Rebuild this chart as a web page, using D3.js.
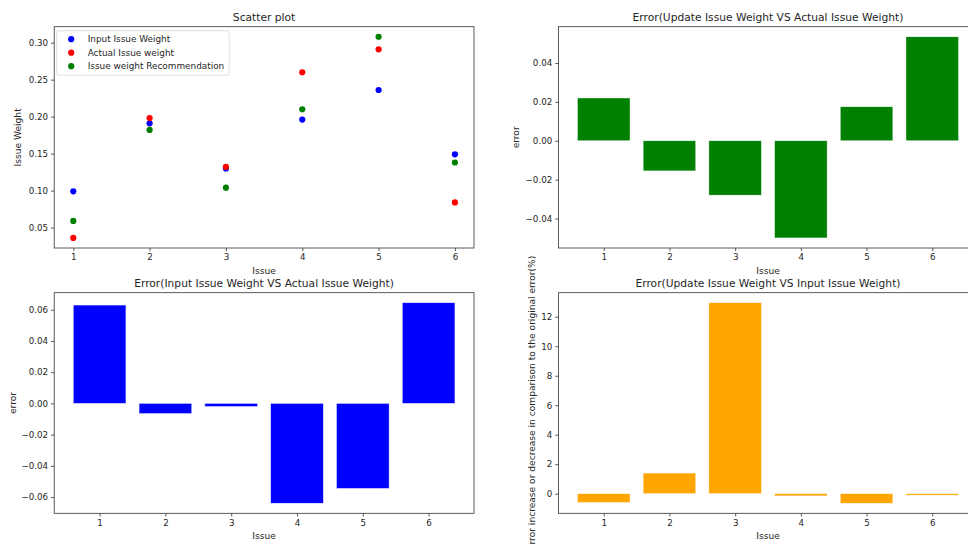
<!DOCTYPE html>
<html>
<head>
<meta charset="utf-8">
<script src="https://cdn.jsdelivr.net/npm/d3@7"></script>
<style>
  html, body { margin: 0; padding: 0; background: #fff; overflow: hidden; }
  svg { display: block; font-family: "DejaVu Sans", sans-serif; }
</style>
</head>
<body>
<svg id="fig" width="968" height="544"></svg>
<script>
// ---- data ----
const issues = [1, 2, 3, 4, 5, 6];
const inputWeight       = [0.099, 0.191, 0.130, 0.196, 0.236, 0.149];
const actualWeight      = [0.036, 0.198, 0.132, 0.260, 0.291, 0.084];
const recommendedWeight = [0.059, 0.182, 0.104, 0.210, 0.308, 0.138];
const errUpdateVsActual = [0.022, -0.0155, -0.028, -0.050, 0.0175, 0.0535];
const errInputVsActual  = [0.063, -0.0065, -0.002, -0.064, -0.0545, 0.0645];
const pctUpdateVsInput  = [-0.6, 1.4, 12.95, -0.15, -0.65, -0.1];

const scatterTicks = [0.05, 0.10, 0.15, 0.20, 0.25, 0.30];
const errTicksTop  = [-0.04, -0.02, 0.00, 0.02, 0.04];
const errTicksLeft = [-0.06, -0.04, -0.02, 0.00, 0.02, 0.04, 0.06];
const pctTicks     = [0, 2, 4, 6, 8, 10, 12];

const seriesNames = ["Input Issue Weight", "Actual Issue weight", "Issue weight Recommendation"];

// ---- layout ----
const svg = d3.select("#fig");
const TICK_FONT = 8.7, LABEL_FONT = 9.1, LEGEND_FONT = 8.9, TITLE_FONT = 10.7, TEXT = "#262626";
const cols = [{ x0: 54.2, x1: 474 }, { x0: 558.4, x1: 977.6 }];
const rows = [{ y0: 26.7, y1: 248 }, { y0: 292.7, y1: 513.3 }];

// autoscale with a 5% margin on each side
function padded(lo, hi) {
  const m = (hi - lo) * 0.05;
  return [lo - m, hi + m];
}

function panel(opts) {
  const { col, row, xDomain, yDomain, yTicks, yFmt, title, ylabel, ylabelGap } = opts;
  const g = svg.append("g");
  const x = d3.scaleLinear().domain(xDomain).range([col.x0, col.x1]);
  const y = d3.scaleLinear().domain(yDomain).range([row.y1, row.y0]);

  const marks = g.append("g");

  const gx = g.append("g")
    .attr("transform", `translate(0,${row.y1})`)
    .call(d3.axisBottom(x).tickValues(issues).tickFormat(d3.format("d"))
      .tickSize(3.2).tickSizeOuter(0).tickPadding(3));
  const gy = g.append("g")
    .attr("transform", `translate(${col.x0},0)`)
    .call(d3.axisLeft(y).tickValues(yTicks).tickFormat(yFmt)
      .tickSize(3.2).tickSizeOuter(0).tickPadding(3));
  [gx, gy].forEach(a => {
    a.select(".domain").remove();
    a.selectAll(".tick line").attr("stroke", "#333").attr("stroke-width", 0.8);
    a.selectAll(".tick text").attr("fill", TEXT).attr("font-size", TICK_FONT)
      .attr("font-family", "DejaVu Sans");
  });

  // frame (all four spines)
  g.append("rect")
    .attr("x", col.x0).attr("y", row.y0)
    .attr("width", col.x1 - col.x0).attr("height", row.y1 - row.y0)
    .attr("fill", "none").attr("stroke", "#333").attr("stroke-width", 0.8);

  g.append("text")
    .attr("x", (col.x0 + col.x1) / 2).attr("y", row.y0 - 5.5)
    .attr("text-anchor", "middle").attr("font-size", TITLE_FONT).attr("fill", TEXT)
    .text(title);

  g.append("text")
    .attr("x", (col.x0 + col.x1) / 2).attr("y", row.y1 + 25.5)
    .attr("text-anchor", "middle").attr("font-size", LABEL_FONT).attr("fill", TEXT)
    .text("Issue");

  const cy = (row.y0 + row.y1) / 2, cx = col.x0 - ylabelGap;
  g.append("text")
    .attr("transform", `translate(${cx},${cy}) rotate(-90)`)
    .attr("text-anchor", "middle").attr("dominant-baseline", "central")
    .attr("font-size", LABEL_FONT).attr("fill", TEXT)
    .text(ylabel);

  return { x, y, marks };
}

function barPanel(opts, values, color) {
  const xDomain = padded(d3.min(issues) - 0.4, d3.max(issues) + 0.4);
  const yDomain = padded(Math.min(0, d3.min(values)), Math.max(0, d3.max(values)));
  const p = panel({ ...opts, xDomain, yDomain });
  p.marks.selectAll("rect").data(issues).join("rect")
    .attr("x", d => p.x(d - 0.4))
    .attr("width", d => p.x(d + 0.4) - p.x(d - 0.4))
    .attr("y", (d, i) => p.y(Math.max(0, values[i])))
    .attr("height", (d, i) => Math.abs(p.y(values[i]) - p.y(0)))
    .attr("fill", color)
    .attr("stroke", "#ffffff").attr("stroke-opacity", 0.7).attr("stroke-width", 0.6);
  return p;
}

// ---- scatter plot ----
const allWeights = inputWeight.concat(actualWeight, recommendedWeight);
const sp = panel({
  col: cols[0], row: rows[0],
  xDomain: padded(d3.min(issues), d3.max(issues)),
  yDomain: padded(d3.min(allWeights), d3.max(allWeights)),
  yTicks: scatterTicks, yFmt: d3.format(".2f"),
  title: "Scatter plot", ylabel: "Issue Weight", ylabelGap: 36
});
const scatterSeries = [
  { name: seriesNames[0], values: inputWeight, color: "#0000ff" },
  { name: seriesNames[1], values: actualWeight, color: "#ff0000" },
  { name: seriesNames[2], values: recommendedWeight, color: "#008000" }
];
scatterSeries.forEach(s => {
  sp.marks.append("g").selectAll("circle").data(issues).join("circle")
    .attr("cx", d => sp.x(d))
    .attr("cy", (d, i) => sp.y(s.values[i]))
    .attr("r", 3.1)
    .attr("fill", s.color);
});

// legend
const lg = svg.append("g").attr("transform", `translate(${cols[0].x0 + 2.5},${rows[0].y0 + 4})`);
lg.append("rect").attr("width", 172.5).attr("height", 44.5).attr("rx", 2)
  .attr("fill", "#fff").attr("fill-opacity", 0.8)
  .attr("stroke", "#d6d6d6").attr("stroke-width", 0.8);
scatterSeries.forEach((s, i) => {
  const yy = 8.5 + i * 13.5;
  lg.append("circle").attr("cx", 14.5).attr("cy", yy).attr("r", 3.1).attr("fill", s.color);
  lg.append("text").attr("x", 31).attr("y", yy).attr("dominant-baseline", "central")
    .attr("font-size", LEGEND_FONT).attr("fill", TEXT).text(s.name);
});

// ---- error bar charts ----
barPanel({
  col: cols[1], row: rows[0], yTicks: errTicksTop, yFmt: d3.format(".2f"),
  title: "Error(Update Issue Weight VS Actual Issue Weight)", ylabel: "error", ylabelGap: 42.7
}, errUpdateVsActual, "#008000");

barPanel({
  col: cols[0], row: rows[1], yTicks: errTicksLeft, yFmt: d3.format(".2f"),
  title: "Error(Input Issue Weight VS Actual Issue Weight)", ylabel: "error", ylabelGap: 41.7
}, errInputVsActual, "#0000ff");

barPanel({
  col: cols[1], row: rows[1], yTicks: pctTicks, yFmt: d3.format("d"),
  title: "Error(Update Issue Weight VS Input Issue Weight)",
  ylabel: "Error increase or decrease in comparison to the original error(%)", ylabelGap: 26.7
}, pctUpdateVsInput, "#ffa500");
</script>
</body>
</html>
